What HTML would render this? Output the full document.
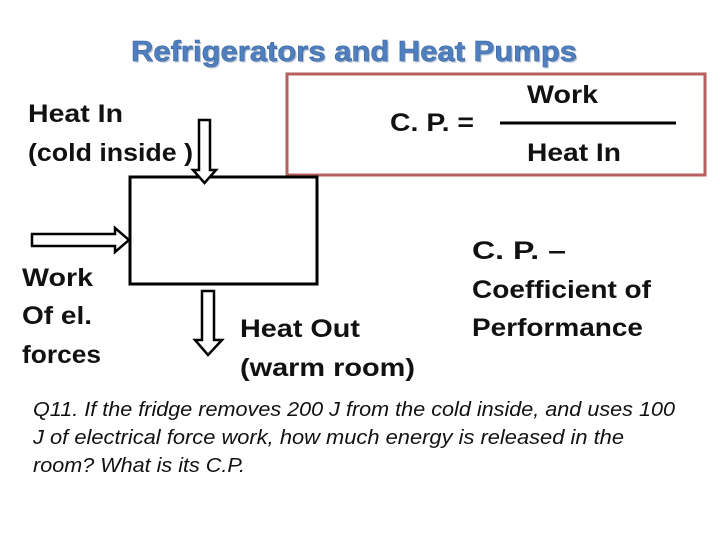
<!DOCTYPE html>
<html><head><style>
body{margin:0;background:#fff;}
svg text{font-family:"Liberation Sans",sans-serif;}
</style></head><body>
<svg width="720" height="540" xmlns="http://www.w3.org/2000/svg">
<rect x="0" y="0" width="720" height="540" fill="#fff"/>
<text x="131" y="61" font-size="29" font-weight="bold" fill="#bcc8d8" transform="translate(1.5,1.5)" textLength="446" lengthAdjust="spacingAndGlyphs">Refrigerators and Heat Pumps</text>
<text x="131" y="61" font-size="29" font-weight="bold" fill="#4f7fbe" stroke="#3a66a0" stroke-width="0.6" textLength="446" lengthAdjust="spacingAndGlyphs">Refrigerators and Heat Pumps</text>
<rect x="287" y="74" width="418" height="101" fill="none" stroke="#b5605e" stroke-width="3"/>
<g font-size="25" font-weight="bold" fill="#111" lengthAdjust="spacingAndGlyphs">
<text x="390" y="131" textLength="84" lengthAdjust="spacingAndGlyphs">C. P. =</text>
<text x="527" y="103" textLength="71" lengthAdjust="spacingAndGlyphs">Work</text>
<text x="527" y="161" textLength="94" lengthAdjust="spacingAndGlyphs">Heat In</text>
<text x="28" y="122" textLength="95" lengthAdjust="spacingAndGlyphs">Heat In</text>
<text x="28" y="161" textLength="165" lengthAdjust="spacingAndGlyphs">(cold inside )</text>
<text x="22" y="286" textLength="71" lengthAdjust="spacingAndGlyphs">Work</text>
<text x="22" y="324" textLength="70" lengthAdjust="spacingAndGlyphs">Of el.</text>
<text x="22" y="363" textLength="79" lengthAdjust="spacingAndGlyphs">forces</text>
<text x="240" y="337" textLength="120" lengthAdjust="spacingAndGlyphs">Heat Out</text>
<text x="240" y="376" textLength="175" lengthAdjust="spacingAndGlyphs">(warm room)</text>
<text x="472" y="259" textLength="94" lengthAdjust="spacingAndGlyphs">C. P. –</text>
<text x="472" y="298" textLength="179" lengthAdjust="spacingAndGlyphs">Coefficient of</text>
<text x="472" y="336" textLength="171" lengthAdjust="spacingAndGlyphs">Performance</text>
</g>
<line x1="500" y1="123" x2="676" y2="123" stroke="#000" stroke-width="3"/>
<rect x="130" y="177" width="187" height="107" fill="none" stroke="#000" stroke-width="3"/>
<polygon points="199,120 210,120 210,170 216,170 204.5,183 193,170 199,170" fill="#fff" stroke="#000" stroke-width="2.5"/>
<polygon points="32,234 115,234 115,228 129,240 115,252 115,246 32,246" fill="#fff" stroke="#000" stroke-width="2.5"/>
<polygon points="202,291 214,291 214,340 222,340 208,355 195,340 202,340" fill="#fff" stroke="#000" stroke-width="2.5"/>
<g font-size="20" font-style="italic" fill="#111">
<text x="33" y="416" textLength="642" lengthAdjust="spacingAndGlyphs">Q11. If the fridge removes 200 J from the cold inside, and uses 100</text>
<text x="33" y="444" textLength="591" lengthAdjust="spacingAndGlyphs">J of electrical force work, how much energy is  released in the</text>
<text x="33" y="472" textLength="212" lengthAdjust="spacingAndGlyphs">room? What is its C.P.</text>
</g>
</svg>
</body></html>
